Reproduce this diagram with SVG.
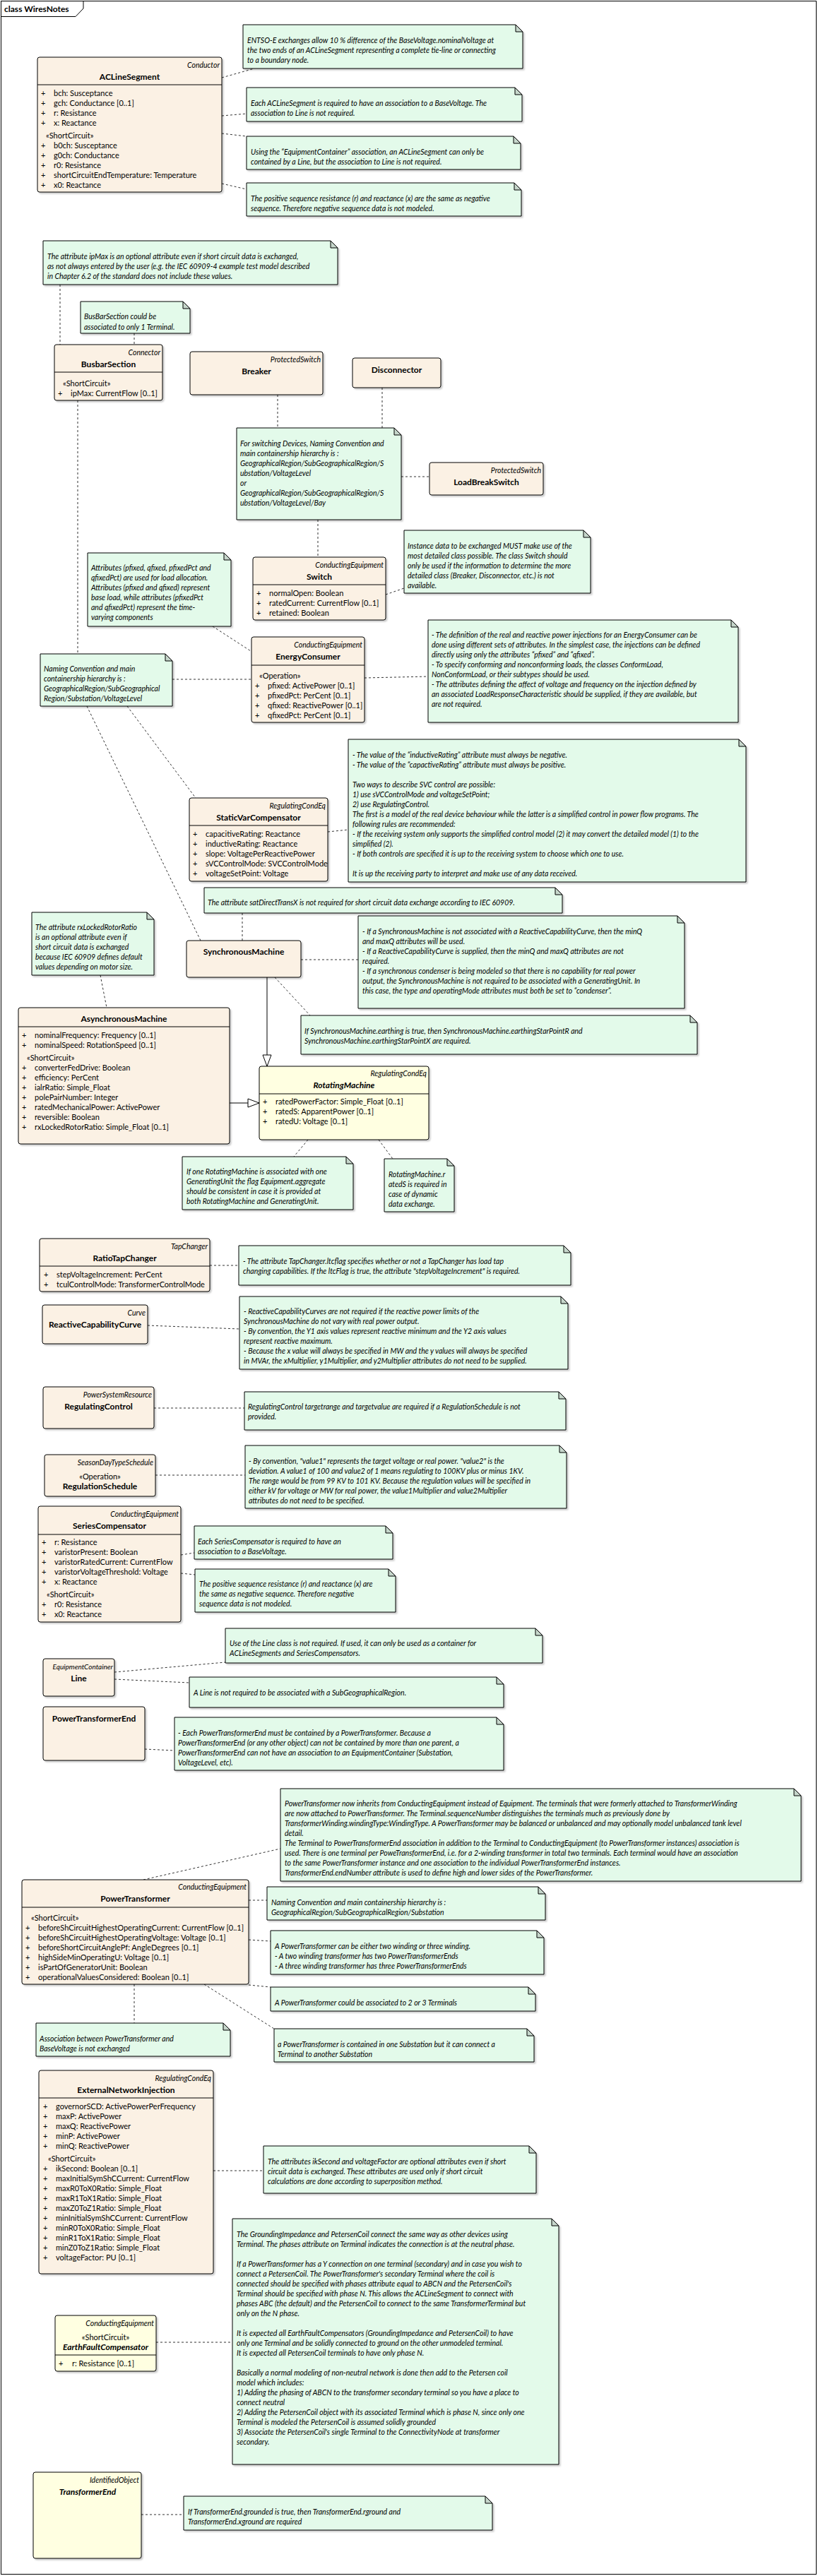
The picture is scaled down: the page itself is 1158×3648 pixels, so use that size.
<svg xmlns="http://www.w3.org/2000/svg" width="1158" height="3648" viewBox="0 0 1158 3648">
<defs>
<style>
text{font-family:Lato,"Liberation Sans",sans-serif;font-size:11px;fill:#000}
.cls{fill:#FBF1E4;stroke:#000;stroke-width:1;filter:url(#sh)}
.yel{fill:#FFFFE1;stroke:#000;stroke-width:1;filter:url(#sh)}
.sep{stroke:#000;stroke-width:1}
.note{fill:#E3FAEA;stroke:#000;stroke-width:1;filter:url(#sh)}
.fold{fill:#C6D6CB;stroke:#000;stroke-width:1}
.st{font-style:italic;font-size:10.5px;text-anchor:end}
.stc{font-size:11px;text-anchor:middle}
.nm{font-weight:bold;font-size:12px;text-anchor:middle}
.nmi{font-weight:bold;font-style:italic;font-size:12px;text-anchor:middle}
.nt{font-style:italic;font-size:10.5px}
.frame{font-weight:bold;font-size:12px}
.conn{stroke:#333;stroke-width:1;stroke-dasharray:3,3;fill:none}
.gen{stroke:#000;stroke-width:1;fill:none;marker-end:url(#tri)}
</style>
<filter id="sh" x="-5%" y="-5%" width="115%" height="115%"><feDropShadow dx="2" dy="2" stdDeviation="1" flood-color="#000" flood-opacity="0.22"/></filter>
<marker id="tri" viewBox="0 0 18 14" markerWidth="18" markerHeight="14" refX="17" refY="7" orient="auto" markerUnits="userSpaceOnUse"><path d="M1,1 L17,7 L1,13 Z" fill="#fff" stroke="#000"/></marker>
</defs>
<rect x="1.5" y="1.5" width="1154" height="3644" fill="#fff" stroke="#000"/>
<path d="M1.5 23.5 H107 L118 12 V1.5" fill="none" stroke="#000"/>
<text x="6" y="17" class="frame">class WiresNotes</text>

<g id="connectors">
<line class="conn" x1="314" y1="110" x2="360" y2="97"/>
<line class="conn" x1="314" y1="164" x2="349" y2="161"/>
<line class="conn" x1="314" y1="189" x2="349" y2="193"/>
<line class="conn" x1="314" y1="260" x2="349" y2="268"/>
<line class="conn" x1="85" y1="403" x2="85" y2="488"/>
<line class="conn" x1="190" y1="472" x2="190" y2="488"/>
<line class="conn" x1="110" y1="567" x2="110" y2="926"/>
<line class="conn" x1="393" y1="559" x2="393" y2="606"/>
<line class="conn" x1="541" y1="549" x2="541" y2="606"/>
<line class="conn" x1="568" y1="675" x2="608" y2="675"/>
<line class="conn" x1="450" y1="736" x2="450" y2="789"/>
<line class="conn" x1="546" y1="842" x2="572" y2="833"/>
<line class="conn" x1="301" y1="887" x2="355" y2="922"/>
<line class="conn" x1="244" y1="962" x2="356" y2="962"/>
<line class="conn" x1="516" y1="960" x2="606" y2="958"/>
<line class="conn" x1="180" y1="1000" x2="277" y2="1130"/>
<line class="conn" x1="123" y1="1000" x2="284" y2="1332"/>
<line class="conn" x1="464" y1="1178" x2="493" y2="1175"/>
<line class="conn" x1="343" y1="1293" x2="343" y2="1332"/>
<line class="conn" x1="426" y1="1359" x2="507" y2="1359"/>
<line class="conn" x1="142" y1="1381" x2="151" y2="1427"/>
<line class="conn" x1="389" y1="1384" x2="439" y2="1438"/>
<line class="gen" x1="378" y1="1384" x2="378" y2="1510"/>
<line class="gen" x1="325" y1="1562" x2="367" y2="1562"/>
<line class="conn" x1="436" y1="1614" x2="416" y2="1638"/>
<line class="conn" x1="536" y1="1614" x2="556" y2="1641"/>
<line class="conn" x1="297" y1="1792" x2="338" y2="1792"/>
<line class="conn" x1="209" y1="1877" x2="339" y2="1882"/>
<line class="conn" x1="218" y1="1994" x2="346" y2="1994"/>
<line class="conn" x1="220" y1="2089" x2="347" y2="2089"/>
<line class="conn" x1="256" y1="2202" x2="275" y2="2199"/>
<line class="conn" x1="256" y1="2228" x2="276" y2="2230"/>
<line class="conn" x1="162" y1="2368" x2="319" y2="2354"/>
<line class="conn" x1="162" y1="2378" x2="268" y2="2383"/>
<line class="conn" x1="205" y1="2477" x2="247" y2="2479"/>
<line class="conn" x1="203" y1="2662" x2="397" y2="2618"/>
<line class="conn" x1="352" y1="2691" x2="378" y2="2691"/>
<line class="conn" x1="352" y1="2747" x2="383" y2="2749"/>
<line class="conn" x1="352" y1="2811" x2="383" y2="2814"/>
<line class="conn" x1="190" y1="2810" x2="190" y2="2865"/>
<line class="conn" x1="289" y1="2810" x2="388" y2="2873"/>
<line class="conn" x1="302" y1="3074" x2="373" y2="3074"/>
<line class="conn" x1="221" y1="3317" x2="329" y2="3317"/>
<line class="conn" x1="200" y1="3561" x2="260" y2="3561"/>
</g>

<g id="ACLineSegment">
<rect class="cls" x="53" y="81" width="261" height="191" rx="3"/>
<line class="sep" x1="53" y1="120" x2="314" y2="120"/>
<text class="st" x="311" y="96">Conductor</text>
<text class="nm" x="183.5" y="113">ACLineSegment</text>
<text y="136"><tspan x="58">+</tspan><tspan x="76">bch: Susceptance</tspan></text>
<text y="150"><tspan x="58">+</tspan><tspan x="76">gch: Conductance [0..1]</tspan></text>
<text y="164"><tspan x="58">+</tspan><tspan x="76">r: Resistance</tspan></text>
<text y="178"><tspan x="58">+</tspan><tspan x="76">x: Reactance</tspan></text>
<text x="65" y="196">«ShortCircuit»</text>
<text y="210"><tspan x="58">+</tspan><tspan x="76">b0ch: Susceptance</tspan></text>
<text y="224"><tspan x="58">+</tspan><tspan x="76">g0ch: Conductance</tspan></text>
<text y="238"><tspan x="58">+</tspan><tspan x="76">r0: Resistance</tspan></text>
<text y="252"><tspan x="58">+</tspan><tspan x="76">shortCircuitEndTemperature: Temperature</tspan></text>
<text y="266"><tspan x="58">+</tspan><tspan x="76">x0: Reactance</tspan></text>
</g>

<g id="note1">
<path class="note" d="M344 35 H730 L740 45 V97 H344 Z"/><path class="fold" d="M730 35 V45 H740 Z"/>
<text class="nt" x="350" y="61">ENTSO-E exchanges allow 10 % difference of the BaseVoltage.nominalVoltage at</text>
<text class="nt" x="350" y="75">the two ends of an ACLineSegment representing a complete tie-line or connecting</text>
<text class="nt" x="350" y="89">to a boundary node.</text>
</g>
<g id="note2">
<path class="note" d="M349 124 H729 L739 134 V172 H349 Z"/><path class="fold" d="M729 124 V134 H739 Z"/>
<text class="nt" x="355" y="150">Each ACLineSegment is required to have an association to a BaseVoltage. The</text>
<text class="nt" x="355" y="164">association to Line is not required.</text>
</g>
<g id="note3">
<path class="note" d="M349 193 H727 L737 203 V240 H349 Z"/><path class="fold" d="M727 193 V203 H737 Z"/>
<text class="nt" x="355" y="219">Using the “EquipmentContainer” association, an ACLineSegment can only be</text>
<text class="nt" x="355" y="233">contained by a Line, but the association to Line is not required.</text>
</g>
<g id="note4">
<path class="note" d="M349 259 H728 L738 269 V306 H349 Z"/><path class="fold" d="M728 259 V269 H738 Z"/>
<text class="nt" x="355" y="285">The positive sequence resistance (r) and reactance (x) are the same as negative</text>
<text class="nt" x="355" y="299">sequence. Therefore negative sequence data is not modeled.</text>
</g>

<g id="note5">
<path class="note" d="M61 341 H468 L478 351 V403 H61 Z"/><path class="fold" d="M468 341 V351 H478 Z"/>
<text class="nt" x="67" y="367">The attribute ipMax is an optional attribute even if short circuit data is exchanged,</text>
<text class="nt" x="67" y="381">as not always entered by the user (e.g. the IEC 60909-4 example test model described</text>
<text class="nt" x="67" y="395">in Chapter 6.2 of the standard does not include these values.</text>
</g>
<g id="note6">
<path class="note" d="M114 427 H259 L269 437 V472 H114 Z"/><path class="fold" d="M259 427 V437 H269 Z"/>
<text class="nt" x="119" y="452">BusBarSection could be</text>
<text class="nt" x="119" y="467">associated to only 1 Terminal.</text>
</g>

<g id="BusbarSection">
<rect class="cls" x="77" y="488" width="153" height="79" rx="3"/>
<line class="sep" x1="77" y1="527" x2="230" y2="527"/>
<text class="st" x="227" y="503">Connector</text>
<text class="nm" x="153.5" y="520">BusbarSection</text>
<text x="89" y="547">«ShortCircuit»</text>
<text y="561"><tspan x="82">+</tspan><tspan x="100">ipMax: CurrentFlow [0..1]</tspan></text>
</g>
<g id="Breaker">
<rect class="cls" x="269" y="498" width="188" height="61" rx="3"/>
<text class="st" x="454" y="513">ProtectedSwitch</text>
<text class="nm" x="363" y="530">Breaker</text>
</g>
<g id="Disconnector">
<rect class="cls" x="499" y="507" width="125" height="42" rx="3"/>
<text class="nm" x="561.5" y="528">Disconnector</text>
</g>

<g id="note7">
<path class="note" d="M335 606 H558 L568 616 V736 H335 Z"/><path class="fold" d="M558 606 V616 H568 Z"/>
<text class="nt" x="340" y="632">For switching Devices, Naming Convention and</text>
<text class="nt" x="340" y="646">main containership hierarchy is :</text>
<text class="nt" x="340" y="660">GeographicalRegion/SubGeographicalRegion/S</text>
<text class="nt" x="340" y="674">ubstation/VoltageLevel</text>
<text class="nt" x="340" y="688">or</text>
<text class="nt" x="340" y="702">GeographicalRegion/SubGeographicalRegion/S</text>
<text class="nt" x="340" y="716">ubstation/VoltageLevel/Bay</text>
</g>
<g id="LoadBreakSwitch">
<rect class="cls" x="608" y="655" width="161" height="46" rx="3"/>
<text class="st" x="766" y="670">ProtectedSwitch</text>
<text class="nm" x="688.5" y="687">LoadBreakSwitch</text>
</g>

<g id="Switch">
<rect class="cls" x="358" y="789" width="188" height="89" rx="3"/>
<line class="sep" x1="358" y1="828" x2="546" y2="828"/>
<text class="st" x="543" y="804">ConductingEquipment</text>
<text class="nm" x="452" y="821">Switch</text>
<text y="844"><tspan x="363">+</tspan><tspan x="381">normalOpen: Boolean</tspan></text>
<text y="858"><tspan x="363">+</tspan><tspan x="381">ratedCurrent: CurrentFlow [0..1]</tspan></text>
<text y="872"><tspan x="363">+</tspan><tspan x="381">retained: Boolean</tspan></text>
</g>
<g id="note8">
<path class="note" d="M572 751 H826 L836 761 V840 H572 Z"/><path class="fold" d="M826 751 V761 H836 Z"/>
<text class="nt" x="577" y="777">Instance data to be exchanged MUST make use of the</text>
<text class="nt" x="577" y="791">most detailed class possible. The class Switch should</text>
<text class="nt" x="577" y="805">only be used if the information to determine the more</text>
<text class="nt" x="577" y="819">detailed class (Breaker, Disconnector, etc.) is not</text>
<text class="nt" x="577" y="833">available.</text>
</g>
<g id="note9">
<path class="note" d="M124 783 H317 L327 793 V887 H124 Z"/><path class="fold" d="M317 783 V793 H327 Z"/>
<text class="nt" x="129" y="808">Attributes (pfixed, qfixed, pfixedPct and</text>
<text class="nt" x="129" y="822">qfixedPct) are used for load allocation.</text>
<text class="nt" x="129" y="836">Attributes (pfixed and qfixed) represent</text>
<text class="nt" x="129" y="850">base load, while attributes (pfixedPct</text>
<text class="nt" x="129" y="864">and qfixedPct) represent the time-</text>
<text class="nt" x="129" y="878">varying components</text>
</g>

<g id="EnergyConsumer">
<rect class="cls" x="356" y="902" width="160" height="121" rx="3"/>
<line class="sep" x1="356" y1="942" x2="516" y2="942"/>
<text class="st" x="513" y="917">ConductingEquipment</text>
<text class="nm" x="436" y="934">EnergyConsumer</text>
<text x="367" y="961">«Operation»</text>
<text y="975"><tspan x="361">+</tspan><tspan x="379">pfixed: ActivePower [0..1]</tspan></text>
<text y="989"><tspan x="361">+</tspan><tspan x="379">pfixedPct: PerCent [0..1]</tspan></text>
<text y="1003"><tspan x="361">+</tspan><tspan x="379">qfixed: ReactivePower [0..1]</tspan></text>
<text y="1017"><tspan x="361">+</tspan><tspan x="379">qfixedPct: PerCent [0..1]</tspan></text>
</g>
<g id="note10">
<path class="note" d="M57 926 H234 L244 936 V1000 H57 Z"/><path class="fold" d="M234 926 V936 H244 Z"/>
<text class="nt" x="62" y="951">Naming Convention and main</text>
<text class="nt" x="62" y="965">containership hierarchy is :</text>
<text class="nt" x="62" y="979">GeographicalRegion/SubGeographical</text>
<text class="nt" x="62" y="993">Region/Substation/VoltageLevel</text>
</g>
<g id="note11">
<path class="note" d="M606 878 H1035 L1045 888 V1023 H606 Z"/><path class="fold" d="M1035 878 V888 H1045 Z"/>
<text class="nt" x="611" y="903">- The definition of the real and reactive power injections for an EnergyConsumer can be</text>
<text class="nt" x="611" y="917">done using different sets of attributes. In the simplest case, the injections can be defined</text>
<text class="nt" x="611" y="931">directly using only the attributes “pfixed” and “qfixed”.</text>
<text class="nt" x="611" y="945">- To specify conforming and nonconforming loads, the classes ConformLoad,</text>
<text class="nt" x="611" y="959">NonConformLoad, or their subtypes should be used.</text>
<text class="nt" x="611" y="973">- The attributes defining the affect of voltage and frequency on the injection defined by</text>
<text class="nt" x="611" y="987">an associated LoadResponseCharacteristic should be supplied, if they are available, but</text>
<text class="nt" x="611" y="1001">are not required.</text>
</g>

<g id="StaticVarCompensator">
<rect class="cls" x="268" y="1130" width="196" height="118" rx="3"/>
<line class="sep" x1="268" y1="1169" x2="464" y2="1169"/>
<text class="st" x="461" y="1145">RegulatingCondEq</text>
<text class="nm" x="366" y="1162">StaticVarCompensator</text>
<text y="1185"><tspan x="273">+</tspan><tspan x="291">capacitiveRating: Reactance</tspan></text>
<text y="1199"><tspan x="273">+</tspan><tspan x="291">inductiveRating: Reactance</tspan></text>
<text y="1213"><tspan x="273">+</tspan><tspan x="291">slope: VoltagePerReactivePower</tspan></text>
<text y="1227"><tspan x="273">+</tspan><tspan x="291">sVCControlMode: SVCControlMode</tspan></text>
<text y="1241"><tspan x="273">+</tspan><tspan x="291">voltageSetPoint: Voltage</tspan></text>
</g>
<g id="note12">
<path class="note" d="M493 1047 H1046 L1056 1057 V1249 H493 Z"/><path class="fold" d="M1046 1047 V1057 H1056 Z"/>
<text class="nt" x="499" y="1073">- The value of the “inductiveRating” attribute must always be negative.</text>
<text class="nt" x="499" y="1087">- The value of the “capactiveRating” attribute must always be positive.</text>
<text class="nt" x="499" y="1115">Two ways to describe SVC control are possible:</text>
<text class="nt" x="499" y="1129">1) use sVCControlMode and voltageSetPoint;</text>
<text class="nt" x="499" y="1143">2) use RegulatingControl.</text>
<text class="nt" x="499" y="1157">The first is a model of the real device behaviour while the latter is a simplified control in power flow programs. The</text>
<text class="nt" x="499" y="1171">following rules are recommended:</text>
<text class="nt" x="499" y="1185">- If the receiving system only supports the simplified control model (2) it may convert the detailed model (1) to the</text>
<text class="nt" x="499" y="1199">simplified (2).</text>
<text class="nt" x="499" y="1213">- If both controls are specified it is up to the receiving system to choose which one to use.</text>
<text class="nt" x="499" y="1241">It is up the receiving party to interpret and make use of any data received.</text>
</g>
<g id="note13">
<path class="note" d="M289 1257 H786 L796 1267 V1293 H289 Z"/><path class="fold" d="M786 1257 V1267 H796 Z"/>
<text class="nt" x="294" y="1282">The attribute satDirectTransX is not required for short circuit data exchange according to IEC 60909.</text>
</g>

<g id="SynchronousMachine">
<rect class="cls" x="264" y="1332" width="162" height="52" rx="3"/>
<text class="nm" x="345" y="1352">SynchronousMachine</text>
</g>
<g id="note14">
<path class="note" d="M507 1297 H959 L969 1307 V1428 H507 Z"/><path class="fold" d="M959 1297 V1307 H969 Z"/>
<text class="nt" x="513" y="1323">- If a SynchronousMachine is not associated with a ReactiveCapabilityCurve, then the minQ</text>
<text class="nt" x="513" y="1337">and maxQ attributes will be used.</text>
<text class="nt" x="513" y="1351">- If a ReactiveCapabilityCurve is supplied, then the minQ and maxQ attributes are not</text>
<text class="nt" x="513" y="1365">required.</text>
<text class="nt" x="513" y="1379">- If a synchronous condenser is being modeled so that there is no capability for real power</text>
<text class="nt" x="513" y="1393">output, the SynchronousMachine is not required to be associated with a GeneratingUnit. In</text>
<text class="nt" x="513" y="1407">this case, the type and operatingMode attributes must both be set to “condenser”.</text>
</g>
<g id="note15">
<path class="note" d="M45 1292 H208 L218 1302 V1381 H45 Z"/><path class="fold" d="M208 1292 V1302 H218 Z"/>
<text class="nt" x="50" y="1317">The attribute rxLockedRotorRatio</text>
<text class="nt" x="50" y="1331">is an optional attribute even if</text>
<text class="nt" x="50" y="1345">short circuit data is exchanged</text>
<text class="nt" x="50" y="1359">because IEC 60909 defines default</text>
<text class="nt" x="50" y="1373">values depending on motor size.</text>
</g>
<g id="note16">
<path class="note" d="M426 1438 H977 L987 1448 V1493 H426 Z"/><path class="fold" d="M977 1438 V1448 H987 Z"/>
<text class="nt" x="431" y="1464">If SynchronousMachine.earthing is true, then SynchronousMachine.earthingStarPointR and</text>
<text class="nt" x="431" y="1478">SynchronousMachine.earthingStarPointX are required.</text>
</g>

<g id="AsynchronousMachine">
<rect class="cls" x="26" y="1427" width="299" height="193" rx="3"/>
<line class="sep" x1="26" y1="1454" x2="325" y2="1454"/>
<text class="nm" x="175.5" y="1447">AsynchronousMachine</text>
<text y="1470"><tspan x="31">+</tspan><tspan x="49">nominalFrequency: Frequency [0..1]</tspan></text>
<text y="1484"><tspan x="31">+</tspan><tspan x="49">nominalSpeed: RotationSpeed [0..1]</tspan></text>
<text x="38" y="1502">«ShortCircuit»</text>
<text y="1516"><tspan x="31">+</tspan><tspan x="49">converterFedDrive: Boolean</tspan></text>
<text y="1530"><tspan x="31">+</tspan><tspan x="49">efficiency: PerCent</tspan></text>
<text y="1544"><tspan x="31">+</tspan><tspan x="49">ialrRatio: Simple_Float</tspan></text>
<text y="1558"><tspan x="31">+</tspan><tspan x="49">polePairNumber: Integer</tspan></text>
<text y="1572"><tspan x="31">+</tspan><tspan x="49">ratedMechanicalPower: ActivePower</tspan></text>
<text y="1586"><tspan x="31">+</tspan><tspan x="49">reversible: Boolean</tspan></text>
<text y="1600"><tspan x="31">+</tspan><tspan x="49">rxLockedRotorRatio: Simple_Float [0..1]</tspan></text>
</g>
<g id="RotatingMachine">
<rect class="yel" x="367" y="1510" width="240" height="104" rx="3"/>
<line class="sep" x1="367" y1="1549" x2="607" y2="1549"/>
<text class="st" x="604" y="1524">RegulatingCondEq</text>
<text class="nmi" x="487" y="1541">RotatingMachine</text>
<text y="1564"><tspan x="372">+</tspan><tspan x="390">ratedPowerFactor: Simple_Float [0..1]</tspan></text>
<text y="1578"><tspan x="372">+</tspan><tspan x="390">ratedS: ApparentPower [0..1]</tspan></text>
<text y="1592"><tspan x="372">+</tspan><tspan x="390">ratedU: Voltage [0..1]</tspan></text>
</g>
<g id="note17">
<path class="note" d="M258 1638 H490 L500 1648 V1713 H258 Z"/><path class="fold" d="M490 1638 V1648 H500 Z"/>
<text class="nt" x="264" y="1663">If one RotatingMachine is associated with one</text>
<text class="nt" x="264" y="1677">GeneratingUnit the flag Equipment.aggregate</text>
<text class="nt" x="264" y="1691">should be consistent in case it is provided at</text>
<text class="nt" x="264" y="1705">both RotatingMachine and GeneratingUnit.</text>
</g>
<g id="note18">
<path class="note" d="M544 1641 H633 L643 1651 V1716 H544 Z"/><path class="fold" d="M633 1641 V1651 H643 Z"/>
<text class="nt" x="550" y="1667">RotatingMachine.r</text>
<text class="nt" x="550" y="1681">atedS is required in</text>
<text class="nt" x="550" y="1695">case of dynamic</text>
<text class="nt" x="550" y="1709">data exchange.</text>
</g>

<g id="RatioTapChanger">
<rect class="cls" x="56" y="1754" width="241" height="75" rx="3"/>
<line class="sep" x1="56" y1="1793" x2="297" y2="1793"/>
<text class="st" x="294" y="1769">TapChanger</text>
<text class="nm" x="176.5" y="1786">RatioTapChanger</text>
<text y="1809"><tspan x="62">+</tspan><tspan x="80">stepVoltageIncrement: PerCent</tspan></text>
<text y="1823"><tspan x="62">+</tspan><tspan x="80">tculControlMode: TransformerControlMode</tspan></text>
</g>
<g id="note19">
<path class="note" d="M338 1764 H798 L808 1774 V1820 H338 Z"/><path class="fold" d="M798 1764 V1774 H808 Z"/>
<text class="nt" x="344" y="1790">- The attribute TapChanger.ltcflag specifies whether or not a TapChanger has load tap</text>
<text class="nt" x="344" y="1804">changing capabilities. If the ltcFlag is true, the attribute "stepVoltageIncrement" is required.</text>
</g>
<g id="ReactiveCapabilityCurve">
<rect class="cls" x="60" y="1848" width="149" height="55" rx="3"/>
<text class="st" x="206" y="1863">Curve</text>
<text class="nm" x="134.5" y="1880">ReactiveCapabilityCurve</text>
</g>
<g id="note20">
<path class="note" d="M339 1836 H794 L804 1846 V1939 H339 Z"/><path class="fold" d="M794 1836 V1846 H804 Z"/>
<text class="nt" x="345" y="1861">- ReactiveCapabilityCurves are not required if the reactive power limits of the</text>
<text class="nt" x="345" y="1875">SynchronousMachine do not vary with real power output.</text>
<text class="nt" x="345" y="1889">- By convention, the Y1 axis values represent reactive minimum and the Y2 axis values</text>
<text class="nt" x="345" y="1903">represent reactive maximum.</text>
<text class="nt" x="345" y="1917">- Because the x value will always be specified in MW and the y values will always be specified</text>
<text class="nt" x="345" y="1931">in MVAr, the xMultiplier, y1Multiplier, and y2Multiplier attributes do not need to be supplied.</text>
</g>

<g id="RegulatingControl">
<rect class="cls" x="61" y="1964" width="157" height="59" rx="3"/>
<text class="st" x="215" y="1979">PowerSystemResource</text>
<text class="nm" x="139.5" y="1996">RegulatingControl</text>
</g>
<g id="note21">
<path class="note" d="M346 1971 H791 L801 1981 V2025 H346 Z"/><path class="fold" d="M791 1971 V1981 H801 Z"/>
<text class="nt" x="351" y="1996">RegulatingControl targetrange and targetvalue are required if a RegulationSchedule is not</text>
<text class="nt" x="351" y="2010">provided.</text>
</g>
<g id="RegulationSchedule">
<rect class="cls" x="63" y="2060" width="157" height="59" rx="3"/>
<text class="st" x="217" y="2075">SeasonDayTypeSchedule</text>
<text class="stc" x="141.5" y="2095">«Operation»</text>
<text class="nm" x="141.5" y="2109">RegulationSchedule</text>
</g>
<g id="note22">
<path class="note" d="M347 2047 H792 L802 2057 V2136 H347 Z"/><path class="fold" d="M792 2047 V2057 H802 Z"/>
<text class="nt" x="352" y="2073">- By convention, "value1" represents the target voltage or real power. "value2" is the</text>
<text class="nt" x="352" y="2087">deviation. A value1 of 100 and value2 of 1 means regulating to 100KV plus or minus 1KV.</text>
<text class="nt" x="352" y="2101">The range would be from 99 KV to 101 KV. Because the regulation values will be specified in</text>
<text class="nt" x="352" y="2115">either kV for voltage or MW for real power, the value1Multiplier and value2Multiplier</text>
<text class="nt" x="352" y="2129">attributes do not need to be specified.</text>
</g>

<g id="SeriesCompensator">
<rect class="cls" x="54" y="2133" width="202" height="164" rx="3"/>
<line class="sep" x1="54" y1="2173" x2="256" y2="2173"/>
<text class="st" x="253" y="2148">ConductingEquipment</text>
<text class="nm" x="155" y="2165">SeriesCompensator</text>
<text y="2188"><tspan x="59">+</tspan><tspan x="77">r: Resistance</tspan></text>
<text y="2202"><tspan x="59">+</tspan><tspan x="77">varistorPresent: Boolean</tspan></text>
<text y="2216"><tspan x="59">+</tspan><tspan x="77">varistorRatedCurrent: CurrentFlow</tspan></text>
<text y="2230"><tspan x="59">+</tspan><tspan x="77">varistorVoltageThreshold: Voltage</tspan></text>
<text y="2244"><tspan x="59">+</tspan><tspan x="77">x: Reactance</tspan></text>
<text x="66" y="2262">«ShortCircuit»</text>
<text y="2276"><tspan x="59">+</tspan><tspan x="77">r0: Resistance</tspan></text>
<text y="2290"><tspan x="59">+</tspan><tspan x="77">x0: Reactance</tspan></text>
</g>
<g id="note23">
<path class="note" d="M275 2161 H546 L556 2171 V2208 H275 Z"/><path class="fold" d="M546 2161 V2171 H556 Z"/>
<text class="nt" x="280" y="2187">Each SeriesCompensator is required to have an</text>
<text class="nt" x="280" y="2201">association to a BaseVoltage.</text>
</g>
<g id="note24">
<path class="note" d="M276 2222 H550 L560 2232 V2283 H276 Z"/><path class="fold" d="M550 2222 V2232 H560 Z"/>
<text class="nt" x="282" y="2247">The positive sequence resistance (r) and reactance (x) are</text>
<text class="nt" x="282" y="2261">the same as negative sequence. Therefore negative</text>
<text class="nt" x="282" y="2275">sequence data is not modeled.</text>
</g>

<g id="note25">
<path class="note" d="M319 2306 H758 L768 2316 V2355 H319 Z"/><path class="fold" d="M758 2306 V2316 H768 Z"/>
<text class="nt" x="325" y="2331">Use of the Line class is not required. If used, it can only be used as a container for</text>
<text class="nt" x="325" y="2345">ACLineSegments and SeriesCompensators.</text>
</g>
<g id="Line">
<rect class="cls" x="61" y="2349" width="101" height="53" rx="3"/>
<text class="st" x="160" y="2364" style="font-size:10px">EquipmentContainer</text>
<text class="nm" x="111.5" y="2381">Line</text>
</g>
<g id="note26">
<path class="note" d="M268 2375 H703 L713 2385 V2418 H268 Z"/><path class="fold" d="M703 2375 V2385 H713 Z"/>
<text class="nt" x="274" y="2401">A Line is not required to be associated with a SubGeographicalRegion.</text>
</g>
<g id="PowerTransformerEnd">
<rect class="cls" x="61" y="2417" width="144" height="76" rx="3"/>
<text class="nm" x="133" y="2438">PowerTransformerEnd</text>
</g>
<g id="note27">
<path class="note" d="M247 2432 H703 L713 2442 V2507 H247 Z"/><path class="fold" d="M703 2432 V2442 H713 Z"/>
<text class="nt" x="252" y="2458">- Each PowerTransformerEnd must be contained by a PowerTransformer. Because a</text>
<text class="nt" x="252" y="2472">PowerTransformerEnd (or any other object) can not be contained by more than one parent, a</text>
<text class="nt" x="252" y="2486">PowerTransformerEnd can not have an association to an EquipmentContainer (Substation,</text>
<text class="nt" x="252" y="2500">VoltageLevel, etc).</text>
</g>

<g id="note28">
<path class="note" d="M397 2533 H1124 L1134 2543 V2664 H397 Z"/><path class="fold" d="M1124 2533 V2543 H1134 Z"/>
<text class="nt" x="403" y="2558">PowerTransformer now inherits from ConductingEquipment instead of Equipment.  The terminals that were formerly attached to TransformerWinding</text>
<text class="nt" x="403" y="2572">are now attached to PowerTransformer.  The Terminal.sequenceNumber distinguishes the terminals much as previously done by</text>
<text class="nt" x="403" y="2586">TransformerWinding.windingType:WindingType.  A PowerTransformer may be balanced or unbalanced and may optionally model unbalanced tank level</text>
<text class="nt" x="403" y="2600">detail.</text>
<text class="nt" x="403" y="2614">The Terminal to PowerTransformerEnd association in addition to the Terminal to ConductingEquipment (to PowerTransformer instances) association is</text>
<text class="nt" x="403" y="2628">used. There is one terminal per PoweTransformerEnd, i.e. for a 2-winding transformer in total two terminals. Each terminal would have an association</text>
<text class="nt" x="403" y="2642">to the same PowerTransformer instance and one association to the individual PowerTransformerEnd instances.</text>
<text class="nt" x="403" y="2656">TransformerEnd.endNumber attribute is used to define high and lower sides of the PowerTransformer.</text>
</g>
<g id="PowerTransformer">
<rect class="cls" x="31" y="2662" width="321" height="148" rx="3"/>
<line class="sep" x1="31" y1="2701" x2="352" y2="2701"/>
<text class="st" x="349" y="2676">ConductingEquipment</text>
<text class="nm" x="191.5" y="2693">PowerTransformer</text>
<text x="44" y="2720">«ShortCircuit»</text>
<text y="2734"><tspan x="36">+</tspan><tspan x="54">beforeShCircuitHighestOperatingCurrent: CurrentFlow [0..1]</tspan></text>
<text y="2748"><tspan x="36">+</tspan><tspan x="54">beforeShCircuitHighestOperatingVoltage: Voltage [0..1]</tspan></text>
<text y="2762"><tspan x="36">+</tspan><tspan x="54">beforeShortCircuitAnglePf: AngleDegrees [0..1]</tspan></text>
<text y="2776"><tspan x="36">+</tspan><tspan x="54">highSideMinOperatingU: Voltage [0..1]</tspan></text>
<text y="2790"><tspan x="36">+</tspan><tspan x="54">isPartOfGeneratorUnit: Boolean</tspan></text>
<text y="2804"><tspan x="36">+</tspan><tspan x="54">operationalValuesConsidered: Boolean [0..1]</tspan></text>
</g>
<g id="note29">
<path class="note" d="M378 2672 H762 L772 2682 V2719 H378 Z"/><path class="fold" d="M762 2672 V2682 H772 Z"/>
<text class="nt" x="384" y="2698">Naming Convention and main containership hierarchy is :</text>
<text class="nt" x="384" y="2712">GeographicalRegion/SubGeographicalRegion/Substation</text>
</g>
<g id="note30">
<path class="note" d="M383 2734 H760 L770 2744 V2796 H383 Z"/><path class="fold" d="M760 2734 V2744 H770 Z"/>
<text class="nt" x="389" y="2760">A PowerTransformer can be either two winding or three winding.</text>
<text class="nt" x="389" y="2774">- A two winding transformer has two PowerTransformerEnds</text>
<text class="nt" x="389" y="2788">- A three winding transformer has three PowerTransformerEnds</text>
</g>
<g id="note31">
<path class="note" d="M383 2814 H748 L758 2824 V2848 H383 Z"/><path class="fold" d="M748 2814 V2824 H758 Z"/>
<text class="nt" x="389" y="2840">A PowerTransformer could be associated to 2 or 3 Terminals</text>
</g>
<g id="note32">
<path class="note" d="M51 2865 H316 L326 2875 V2912 H51 Z"/><path class="fold" d="M316 2865 V2875 H326 Z"/>
<text class="nt" x="56" y="2891">Association between PowerTransformer and</text>
<text class="nt" x="56" y="2905">BaseVoltage is not exchanged</text>
</g>
<g id="note33">
<path class="note" d="M388 2873 H746 L756 2883 V2920 H388 Z"/><path class="fold" d="M746 2873 V2883 H756 Z"/>
<text class="nt" x="393" y="2899">a PowerTransformer is contained in one Substation but it can connect a</text>
<text class="nt" x="393" y="2913">Terminal to another Substation</text>
</g>

<g id="ExternalNetworkInjection">
<rect class="cls" x="55" y="2932" width="247" height="288" rx="3"/>
<line class="sep" x1="55" y1="2971" x2="302" y2="2971"/>
<text class="st" x="299" y="2947">RegulatingCondEq</text>
<text class="nm" x="178.5" y="2964">ExternalNetworkInjection</text>
<text y="2987"><tspan x="61">+</tspan><tspan x="79">governorSCD: ActivePowerPerFrequency</tspan></text>
<text y="3001"><tspan x="61">+</tspan><tspan x="79">maxP: ActivePower</tspan></text>
<text y="3015"><tspan x="61">+</tspan><tspan x="79">maxQ: ReactivePower</tspan></text>
<text y="3029"><tspan x="61">+</tspan><tspan x="79">minP: ActivePower</tspan></text>
<text y="3043"><tspan x="61">+</tspan><tspan x="79">minQ: ReactivePower</tspan></text>
<text x="68" y="3061">«ShortCircuit»</text>
<text y="3075"><tspan x="61">+</tspan><tspan x="79">ikSecond: Boolean [0..1]</tspan></text>
<text y="3089"><tspan x="61">+</tspan><tspan x="79">maxInitialSymShCCurrent: CurrentFlow</tspan></text>
<text y="3103"><tspan x="61">+</tspan><tspan x="79">maxR0ToX0Ratio: Simple_Float</tspan></text>
<text y="3117"><tspan x="61">+</tspan><tspan x="79">maxR1ToX1Ratio: Simple_Float</tspan></text>
<text y="3131"><tspan x="61">+</tspan><tspan x="79">maxZ0ToZ1Ratio: Simple_Float</tspan></text>
<text y="3145"><tspan x="61">+</tspan><tspan x="79">minInitialSymShCCurrent: CurrentFlow</tspan></text>
<text y="3159"><tspan x="61">+</tspan><tspan x="79">minR0ToX0Ratio: Simple_Float</tspan></text>
<text y="3173"><tspan x="61">+</tspan><tspan x="79">minR1ToX1Ratio: Simple_Float</tspan></text>
<text y="3187"><tspan x="61">+</tspan><tspan x="79">minZ0ToZ1Ratio: Simple_Float</tspan></text>
<text y="3201"><tspan x="61">+</tspan><tspan x="79">voltageFactor: PU [0..1]</tspan></text>
</g>
<g id="note34">
<path class="note" d="M373 3039 H749 L759 3049 V3106 H373 Z"/><path class="fold" d="M749 3039 V3049 H759 Z"/>
<text class="nt" x="379" y="3065">The attributes ikSecond and voltageFactor are optional attributes even if short</text>
<text class="nt" x="379" y="3079">circuit data is exchanged. These attributes are used only if short circuit</text>
<text class="nt" x="379" y="3093">calculations are done according to superposition method.</text>
</g>
<g id="note35">
<path class="note" d="M329 3142 H781 L791 3152 V3490 H329 Z"/><path class="fold" d="M781 3142 V3152 H791 Z"/>
<text class="nt" x="335" y="3168">The GroundingImpedance and PetersenCoil connect the same way as other devices using</text>
<text class="nt" x="335" y="3182">Terminal. The phases attribute on Terminal indicates the connection is at the neutral phase.</text>
<text class="nt" x="335" y="3210">If a PowerTransformer has a Y connection on one terminal (secondary) and in case you wish to</text>
<text class="nt" x="335" y="3224">connect a PetersenCoil. The PowerTransformer's secondary Terminal where the coil is</text>
<text class="nt" x="335" y="3238">connected should be specified with phases attribute equal to ABCN and the PetersenCoil's</text>
<text class="nt" x="335" y="3252">Terminal should be specified with phase N. This allows the ACLineSegment to connect with</text>
<text class="nt" x="335" y="3266">phases ABC (the default) and the PetersenCoil to connect to the same TransformerTerminal but</text>
<text class="nt" x="335" y="3280">only on the N phase.</text>
<text class="nt" x="335" y="3308">It is expected all EarthFaultCompensators (GroundingImpedance and PetersenCoil) to have</text>
<text class="nt" x="335" y="3322">only one Terminal and be solidly connected to ground on the other unmodeled terminal.</text>
<text class="nt" x="335" y="3336">It is expected all PetersenCoil terminals to have only phase N.</text>
<text class="nt" x="335" y="3364">Basically a normal modeling of non-neutral network is done then add to the Petersen coil</text>
<text class="nt" x="335" y="3378">model which includes:</text>
<text class="nt" x="335" y="3392">1) Adding the phasing of ABCN to the transformer secondary terminal so you have a place to</text>
<text class="nt" x="335" y="3406">connect neutral</text>
<text class="nt" x="335" y="3420">2) Adding the PetersenCoil object with its associated Terminal which is phase N, since only one</text>
<text class="nt" x="335" y="3434">Terminal is modeled the PetersenCoil is assumed solidly grounded</text>
<text class="nt" x="335" y="3448">3) Associate the PetersenCoil's single Terminal to the ConnectivityNode at transformer</text>
<text class="nt" x="335" y="3462">secondary.</text>
</g>
<g id="EarthFaultCompensator">
<rect class="yel" x="78" y="3279" width="143" height="79" rx="3"/>
<line class="sep" x1="78" y1="3335" x2="221" y2="3335"/>
<text class="st" x="218" y="3294">ConductingEquipment</text>
<text class="stc" x="149.5" y="3314">«ShortCircuit»</text>
<text class="nmi" x="149.5" y="3328">EarthFaultCompensator</text>
<text y="3351"><tspan x="83">+</tspan><tspan x="102">r: Resistance [0..1]</tspan></text>
</g>
<g id="TransformerEnd">
<rect class="yel" x="47" y="3501" width="153" height="122" rx="3"/>
<text class="st" x="197" y="3516">IdentifiedObject</text>
<text class="nmi" x="124" y="3533">TransformerEnd</text>
</g>
<g id="note36">
<path class="note" d="M260 3535 H687 L697 3545 V3583 H260 Z"/><path class="fold" d="M687 3535 V3545 H697 Z"/>
<text class="nt" x="266" y="3561">If TransformerEnd.grounded is true, then TransformerEnd.rground and</text>
<text class="nt" x="266" y="3575">TransformerEnd.xground are required</text>
</g>
</svg>
